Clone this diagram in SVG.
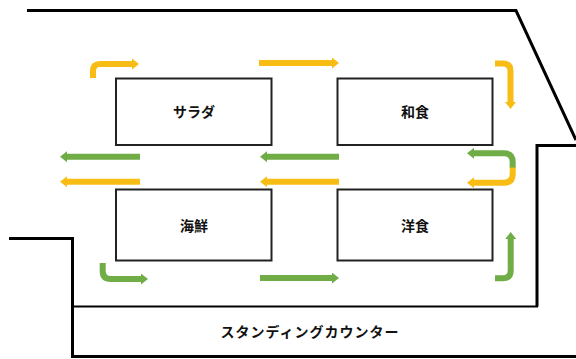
<svg xmlns="http://www.w3.org/2000/svg" width="576" height="359" viewBox="0 0 576 359">
<style>
.wall{fill:none;stroke:#000;stroke-width:3;stroke-linejoin:miter}
.thin{fill:none;stroke:#000;stroke-width:2}
.box{fill:#fff;stroke:#222;stroke-width:2}
.lbl{font-family:"Noto Sans CJK JP","Noto Sans",sans-serif;font-size:14px;font-weight:700;fill:#111;text-anchor:middle;dominant-baseline:central}
.y{fill:none;stroke:#F7BD14;stroke-width:6}
.g{fill:none;stroke:#70AD47;stroke-width:6}
</style>
<defs>
<marker id="ay" markerUnits="userSpaceOnUse" markerWidth="7" markerHeight="11" refX="1" refY="5.5" orient="auto"><path d="M0,0 L7,5.5 L0,11 z" fill="#F7BD14"/></marker>
<marker id="ag" markerUnits="userSpaceOnUse" markerWidth="7" markerHeight="11" refX="1" refY="5.5" orient="auto"><path d="M0,0 L7,5.5 L0,11 z" fill="#70AD47"/></marker>
</defs>
<rect width="576" height="359" fill="#fff"/>
<g id="walls">
<path class="wall" d="M27,10.5 H516 L576,140"/>
<path class="wall" d="M576,145.5 H537 V306.5"/>
<path class="wall" d="M9,238.5 H72.5 V356.5 H576"/>
<path class="thin" d="M72.5,306.5 H538"/>
</g>
<g id="salad"><rect class="box" x="116" y="78.5" width="155.5" height="66.5"/><text class="lbl" x="194" y="111">サラダ</text></g>
<g id="washoku"><rect class="box" x="337.5" y="78.5" width="155" height="66.5"/><text class="lbl" x="415" y="111">和食</text></g>
<g id="kaisen"><rect class="box" x="116" y="189.5" width="155.5" height="71"/><text class="lbl" x="194" y="225">海鮮</text></g>
<g id="yoshoku"><rect class="box" x="337.5" y="189.5" width="155" height="71"/><text class="lbl" x="415" y="225">洋食</text></g>
<g id="counter"><text class="lbl" x="310" y="331" letter-spacing="1">スタンディングカウンター</text></g>
<g id="connectors">
<path class="y" d="M93,78 V71 Q93,64 100,64 H133" marker-end="url(#ay)"/>
<path class="y" d="M259,63 H333" marker-end="url(#ay)"/>
<path class="y" d="M495,63.5 H503 Q510.5,63.5 510.5,71 V103" marker-end="url(#ay)"/>
<path class="g" d="M140,156.7 H66" marker-end="url(#ag)"/>
<path class="g" d="M339,156.7 H266" marker-end="url(#ag)"/>
<path class="y" d="M140,181.7 H66" marker-end="url(#ay)"/>
<path class="y" d="M339,181.7 H266" marker-end="url(#ay)"/>
<path class="g" d="M512.7,168 V162 Q512.7,153.3 504,153.3 H473" marker-end="url(#ag)"/>
<path class="y" d="M512.7,167.5 V174 Q512.7,182.7 504,182.7 H473" marker-end="url(#ay)"/>
<path class="g" d="M102.7,263 V271 Q102.7,279 110.7,279 H142" marker-end="url(#ag)"/>
<path class="g" d="M260,278 H333" marker-end="url(#ag)"/>
<path class="g" d="M495,278.3 H503 Q510.7,278.3 510.7,270.6 V238" marker-end="url(#ag)"/>
</g>
</svg>
